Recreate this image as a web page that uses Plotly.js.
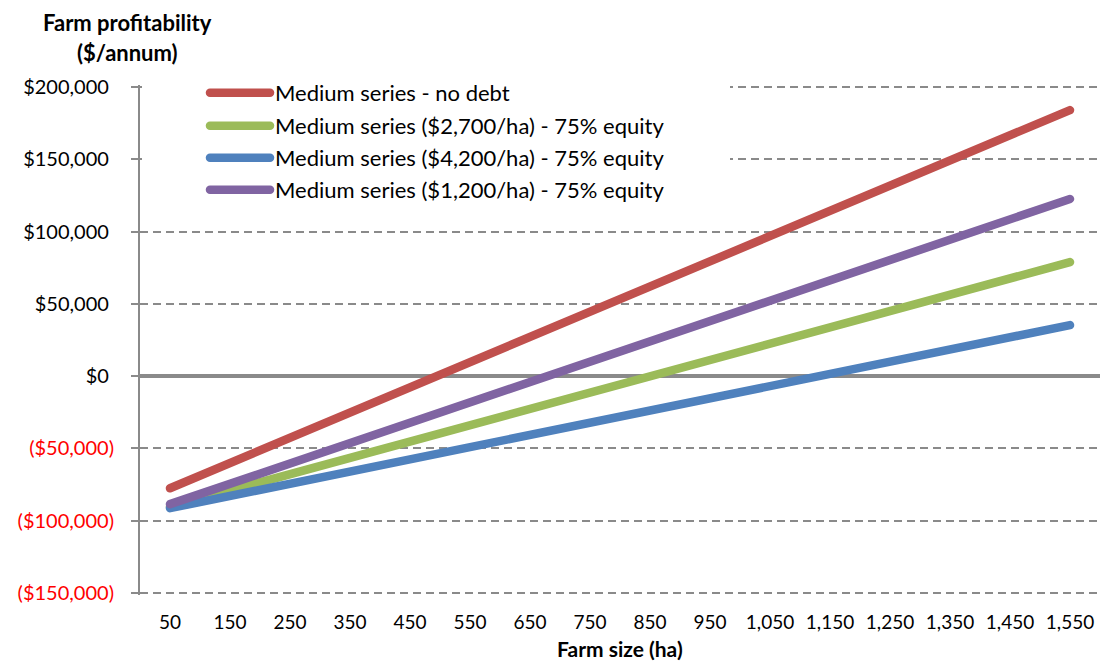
<!DOCTYPE html>
<html>
<head>
<meta charset="utf-8">
<script src="https://cdn.plot.ly/plotly-3.0.1.min.js"></script>
<style>
  html, body { margin: 0; padding: 0; background: #fff; }
  #chart { width: 1104px; height: 662px; }
  .js-line, .legendlines path { stroke-linecap: round !important; stroke-linejoin: round !important; }
</style>
</head>
<body>
<div id="chart"></div>
<script>
// Farm size categories (ha)
const farmSize = ['50', '150', '250', '350', '450', '550', '650', '750', '850', '950',
                  '1,050', '1,150', '1,250', '1,350', '1,450', '1,550'];

// Annual farm profitability ($) for each scenario
const noDebt = [-77600, -60150, -42700, -25250, -7800, 9650, 27100, 44550,
                62000, 79450, 96900, 114350, 131800, 149250, 166700, 184150];
const equity2700 = [-90500, -79200, -67900, -56600, -45300, -34000, -22700, -11400,
                    -100, 11100, 22400, 33700, 45000, 56300, 67600, 78900];
const equity4200 = [-91400, -82950, -74500, -66060, -57610, -49170, -40720, -32270,
                    -23820, -15380, -6930, 1520, 9960, 18410, 26860, 35300];
const equity1200 = [-88600, -74520, -60440, -46360, -32280, -18200, -4120, 9960,
                    24040, 38120, 52200, 66280, 80360, 94440, 108520, 122600];

const seriesNames = [
  'Medium series - no debt',
  'Medium series ($2,700/ha) - 75% equity',
  'Medium series ($4,200/ha) - 75% equity',
  'Medium series ($1,200/ha) - 75% equity'
];

// Y-axis ticks; losses shown in red with parentheses (accounting style)
const yTickVals = [-150000, -100000, -50000, 0, 50000, 100000, 150000, 200000];
const yTickText = ['($150,000)', '($100,000)', '($50,000)', '$0',
                   '$50,000', '$100,000', '$150,000', '$200,000'];

const FONT = 'Lato, "Open Sans", sans-serif';
const colors = ['#C0504D', '#9BBB59', '#4F81BD', '#8064A2'];
const seriesData = [noDebt, equity2700, equity4200, equity1200];
const legendIds = ['legend', 'legend2', 'legend3', 'legend4'];

const traces = seriesData.map((vals, i) => ({
  type: 'scatter',
  mode: 'lines',
  x: farmSize,
  y: vals,
  name: seriesNames[i],
  legend: legendIds[i],
  line: { color: colors[i], width: 8.5 },
  hoverinfo: 'x+y+name'
}));

const W = 1104, H = 662;
// small padding beyond the outer ticks so their gridlines are kept
const M = { l: 140, r: 4, t: 85, b: 67 };
const plotW = W - M.l - M.r, plotH = H - M.t - M.b;
const px2x = p => (p - M.l) / plotW;
const px2y = p => (H - M.b - p) / plotH;

const legendRows = [93, 126, 158, 190];
const legendBase = {
  xanchor: 'left', yanchor: 'middle',
  bgcolor: 'rgba(0,0,0,0)', borderwidth: 0,
  itemwidth: 60,
  font: { family: FONT, size: 22, color: '#000' }
};
const legends = {};
legendIds.forEach((id, i) => {
  legends[id] = Object.assign({}, legendBase, { x: px2x(205), y: px2y(legendRows[i]) });
});

const titleFont = { family: FONT, size: 22, color: '#000' };

const layout = Object.assign({
  width: W, height: H,
  margin: M,
  paper_bgcolor: '#fff',
  plot_bgcolor: '#fff',
  font: { family: FONT, size: 19, color: '#000' },
  showlegend: true,
  xaxis: {
    type: 'category',
    range: [-0.5, 15.5],
    showgrid: false,
    showline: false,
    zeroline: false,
    ticks: 'outside',
    ticklen: 10,
    tickcolor: 'rgba(0,0,0,0)',
    tickfont: { family: FONT, size: 19, color: '#000' },
    fixedrange: true
  },
  yaxis: {
    range: [-151500, 201500],
    tickvals: yTickVals,
    ticktext: yTickText.map((t, i) =>
      yTickVals[i] < 0 ? '<span style="color:#FF0000">' + t + '</span>' : t + '\u00A0'),
    tickfont: { family: FONT, size: 20, color: '#000' },
    ticks: 'outside',
    ticklen: 7,
    tickwidth: 1.5,
    tickcolor: '#8a8a8a',
    ticklabelstandoff: 13,
    showline: true,
    linecolor: '#8a8a8a',
    linewidth: 2,
    showgrid: true,
    gridcolor: '#8a8a8a',
    gridwidth: 1.5,
    griddash: '8px,5px',
    zeroline: true,
    zerolinecolor: '#8a8a8a',
    zerolinewidth: 3.5,
    fixedrange: true
  },
  shapes: [{
    // white panel behind the legend, masking the top gridlines
    type: 'rect', xref: 'paper', yref: 'paper', layer: 'above',
    x0: px2x(142), x1: px2x(730), y0: px2y(206), y1: px2y(78),
    fillcolor: '#fff', line: { width: 0 }
  }],
  annotations: [
    { text: '<b>Farm profitability</b>', xref: 'paper', yref: 'paper',
      x: px2x(127), y: px2y(22), xanchor: 'center', yanchor: 'middle',
      showarrow: false, font: titleFont },
    { text: '<b>($/annum)</b>', xref: 'paper', yref: 'paper',
      x: px2x(127), y: px2y(52), xanchor: 'center', yanchor: 'middle',
      showarrow: false, font: titleFont },
    { text: '<b>Farm size (ha)</b>', xref: 'paper', yref: 'paper',
      x: 0.5, y: px2y(648), xanchor: 'center', yanchor: 'middle',
      showarrow: false, font: { family: FONT, size: 21, color: '#000' } }
  ]
}, legends);

Plotly.newPlot('chart', traces, layout, { displayModeBar: false });
</script>
</body>
</html>
